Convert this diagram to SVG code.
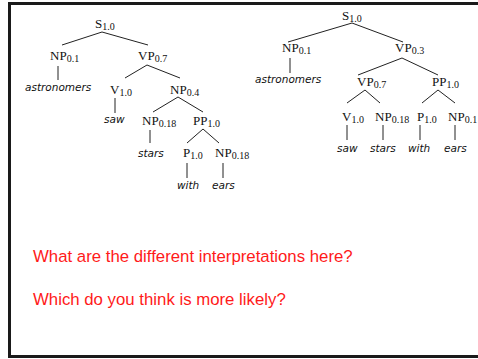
<svg xmlns="http://www.w3.org/2000/svg" width="478" height="359" viewBox="0 0 478 359">
<style>
.lab{font-family:"Liberation Serif","Times New Roman",serif;font-size:13px;fill:#111}
.sub{font-size:10px}
.leaf{font-family:"DejaVu Sans","Liberation Sans",sans-serif;font-style:italic;font-size:10.5px;fill:#111}
.edge{stroke:#222;stroke-width:1;fill:none}
.q{font-family:"Liberation Sans",Arial,sans-serif;font-size:16.8px;fill:#ff1a1a}
</style>
<rect x="0" y="0" width="478" height="359" fill="#fff"/>
<rect x="9.5" y="3.5" width="480" height="353" fill="none" stroke="#1a1a1a" stroke-width="3"/>
<g id="connectors">
<line class="edge" x1="102" y1="32" x2="62" y2="45"/>
<line class="edge" x1="102" y1="32" x2="148" y2="45"/>
<line class="edge" x1="58" y1="66" x2="58" y2="80"/>
<line class="edge" x1="147" y1="65" x2="125" y2="78"/>
<line class="edge" x1="147" y1="65" x2="180" y2="78"/>
<line class="edge" x1="115" y1="98" x2="115" y2="113"/>
<line class="edge" x1="178" y1="97" x2="153" y2="112"/>
<line class="edge" x1="178" y1="97" x2="203" y2="112"/>
<line class="edge" x1="150" y1="130" x2="150" y2="143"/>
<line class="edge" x1="203" y1="129" x2="187" y2="143"/>
<line class="edge" x1="203" y1="129" x2="219" y2="143"/>
<line class="edge" x1="187" y1="163" x2="187" y2="178"/>
<line class="edge" x1="223" y1="163" x2="223" y2="178"/>
<line class="edge" x1="352" y1="23" x2="288" y2="42"/>
<line class="edge" x1="352" y1="23" x2="403" y2="42"/>
<line class="edge" x1="290" y1="58" x2="290" y2="73"/>
<line class="edge" x1="402" y1="58" x2="358" y2="75"/>
<line class="edge" x1="402" y1="58" x2="438" y2="75"/>
<line class="edge" x1="365" y1="90" x2="347" y2="103"/>
<line class="edge" x1="365" y1="90" x2="380" y2="103"/>
<line class="edge" x1="438" y1="90" x2="422" y2="103"/>
<line class="edge" x1="438" y1="90" x2="455" y2="103"/>
<line class="edge" x1="347" y1="125" x2="347" y2="140"/>
<line class="edge" x1="383" y1="125" x2="383" y2="140"/>
<line class="edge" x1="420" y1="125" x2="420" y2="140"/>
<line class="edge" x1="455" y1="125" x2="455" y2="140"/>
</g>
<g id="tree1">
<g id="t1-S"><text class="lab" x="95" y="28">S<tspan class="sub" dy="2">1.0</tspan></text></g>
<g id="t1-NP1"><text class="lab" x="50" y="60">NP<tspan class="sub" dy="2">0.1</tspan></text></g>
<g id="t1-VP"><text class="lab" x="138" y="60">VP<tspan class="sub" dy="2">0.7</tspan></text></g>
<g id="t1-astronomers"><text class="leaf" x="25" y="91">astronomers</text></g>
<g id="t1-V"><text class="lab" x="110" y="94">V<tspan class="sub" dy="2">1.0</tspan></text></g>
<g id="t1-NP2"><text class="lab" x="170" y="94">NP<tspan class="sub" dy="2">0.4</tspan></text></g>
<g id="t1-saw"><text class="leaf" x="104" y="123">saw</text></g>
<g id="t1-NP3"><text class="lab" x="142" y="125">NP<tspan class="sub" dy="2">0.18</tspan></text></g>
<g id="t1-PP"><text class="lab" x="193" y="125">PP<tspan class="sub" dy="2">1.0</tspan></text></g>
<g id="t1-stars"><text class="leaf" x="138" y="157">stars</text></g>
<g id="t1-P"><text class="lab" x="183" y="157">P<tspan class="sub" dy="2">1.0</tspan></text></g>
<g id="t1-NP4"><text class="lab" x="215" y="157">NP<tspan class="sub" dy="2">0.18</tspan></text></g>
<g id="t1-with"><text class="leaf" x="177" y="189">with</text></g>
<g id="t1-ears"><text class="leaf" x="212" y="189">ears</text></g>
</g>
<g id="tree2">
<g id="t2-S"><text class="lab" x="342" y="20">S<tspan class="sub" dy="2">1.0</tspan></text></g>
<g id="t2-NP1"><text class="lab" x="282" y="52">NP<tspan class="sub" dy="2">0.1</tspan></text></g>
<g id="t2-VP"><text class="lab" x="395" y="52">VP<tspan class="sub" dy="2">0.3</tspan></text></g>
<g id="t2-astronomers"><text class="leaf" x="255" y="83">astronomers</text></g>
<g id="t2-VP2"><text class="lab" x="357" y="86">VP<tspan class="sub" dy="2">0.7</tspan></text></g>
<g id="t2-PP"><text class="lab" x="432" y="86">PP<tspan class="sub" dy="2">1.0</tspan></text></g>
<g id="t2-V"><text class="lab" x="342" y="121">V<tspan class="sub" dy="2">1.0</tspan></text></g>
<g id="t2-NP2"><text class="lab" x="375" y="121">NP<tspan class="sub" dy="2">0.18</tspan></text></g>
<g id="t2-P"><text class="lab" x="417" y="121">P<tspan class="sub" dy="2">1.0</tspan></text></g>
<g id="t2-NP3"><text class="lab" x="448" y="121">NP<tspan class="sub" dy="2">0.1</tspan></text></g>
<g id="t2-saw"><text class="leaf" x="337" y="152">saw</text></g>
<g id="t2-stars"><text class="leaf" x="370" y="152">stars</text></g>
<g id="t2-with"><text class="leaf" x="408" y="152">with</text></g>
<g id="t2-ears"><text class="leaf" x="444" y="152">ears</text></g>
</g>
<g id="questions">
<text class="q" x="33" y="262">What are the different interpretations here?</text>
<text class="q" x="33" y="305">Which do you think is more likely?</text>
</g>
</svg>
